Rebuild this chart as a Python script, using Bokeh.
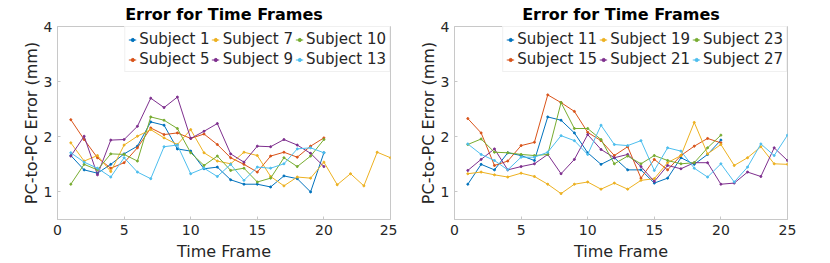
from bokeh.plotting import figure
from bokeh.layouts import row
from bokeh.models import Range1d, Legend, LegendItem, FixedTicker
from bokeh.embed import file_html
from bokeh.resources import INLINE

# ---------------- data ----------------
frames_20 = list(range(1, 21))
frames_25 = list(range(1, 26))

# left panel
subject_1 = [1.66, 1.40, 1.34, 1.50, 1.69, 1.83, 2.27, 2.21, 1.78, 1.74,
             1.42, 1.45, 1.22, 1.14, 1.14, 1.09, 1.29, 1.24, 1.00, 1.71]
subject_5 = [2.31, 1.95, 1.62, 1.43, 1.53, 1.80, 2.16, 2.04, 2.07, 1.97,
             2.05, 1.86, 1.62, 1.50, 1.36, 1.65, 1.72, 1.63, 1.83, 1.98]
subject_7 = [1.89, 1.56, 1.66, 1.37, 1.85, 2.01, 2.13, 1.98, 1.86, 2.13,
             1.71, 1.56, 1.51, 1.72, 1.66, 1.28, 1.11, 1.27, 1.25, 1.54,
             1.13, 1.33, 1.11, 1.72, 1.62]
subject_9 = [1.65, 2.01, 1.31, 1.94, 1.95, 2.19, 2.70, 2.53, 2.72, 1.97,
             2.10, 2.24, 1.69, 1.54, 1.83, 1.82, 1.95, 1.85, 1.70, 1.46]
subject_10 = [1.14, 1.50, 1.40, 1.69, 1.68, 1.56, 2.36, 2.30, 2.15, 1.71,
              1.48, 1.65, 1.39, 1.43, 1.18, 1.25, 1.62, 1.46, 1.65, 1.95]
subject_13 = [1.71, 1.54, 1.43, 1.27, 1.62, 1.36, 1.24, 1.82, 1.85, 1.33,
              1.43, 1.28, 1.50, 1.21, 1.45, 1.43, 1.51, 1.78, 1.80, 1.71]

# right panel
subject_11 = [1.14, 1.50, 1.40, 1.71, 1.66, 1.57, 2.36, 2.30, 2.07, 1.71,
              1.50, 1.62, 1.40, 1.40, 1.16, 1.25, 1.62, 1.50, 1.68, 1.94]
subject_15 = [2.33, 2.07, 1.48, 1.56, 1.84, 1.90, 2.76, 2.62, 2.46, 2.08,
              1.93, 1.66, 1.82, 1.25, 1.59, 1.40, 1.66, 1.83, 1.97, 1.89]
subject_19 = [1.33, 1.36, 1.31, 1.27, 1.34, 1.28, 1.14, 0.97, 1.14, 1.18,
              1.05, 1.16, 1.05, 1.21, 1.24, 1.53, 1.66, 2.26, 1.69, 1.86,
              1.48, 1.62, 1.82, 1.51, 1.50]
subject_21 = [1.39, 1.59, 1.78, 1.40, 1.46, 1.51, 1.68, 1.33, 1.59, 2.04,
              1.77, 1.62, 1.68, 1.46, 1.19, 1.48, 1.42, 1.53, 1.53, 1.14,
              1.16, 1.36, 1.28, 1.80, 1.57]
subject_23 = [1.86, 1.96, 1.72, 1.71, 1.68, 1.66, 1.68, 2.62, 2.15, 2.15,
              1.95, 1.51, 1.65, 1.51, 1.66, 1.57, 1.51, 1.53, 1.80, 2.03]
subject_27 = [1.87, 1.68, 1.57, 1.40, 1.63, 1.63, 1.72, 2.02, 1.93, 1.68,
              2.21, 1.86, 1.84, 1.93, 1.39, 1.80, 1.74, 1.43, 1.27, 1.51,
              1.18, 1.45, 1.87, 1.66, 2.03]

left_names = ["Subject 1", "Subject 5", "Subject 7", "Subject 9", "Subject 10", "Subject 13"]
left_series = [subject_1, subject_5, subject_7, subject_9, subject_10, subject_13]
right_names = ["Subject 11", "Subject 15", "Subject 19", "Subject 21", "Subject 23", "Subject 27"]
right_series = [subject_11, subject_15, subject_19, subject_21, subject_23, subject_27]

colors = ["#0072BD", "#D95319", "#EDB120", "#7E2F8E", "#77AC30", "#4DBEEE"]

title_text = "Error for Time Frames"
x_label = "Time Frame"
y_label = "PC-to-PC Error (mm)"
x_ticks = [0, 5, 10, 15, 20, 25]
y_ticks = [1, 2, 3, 4]

FONT = "DejaVu Sans"
TEXT_COL = "#262626"
AX_COL = "#c8c8c8"


def make_panel(names, series, border_right):
    p = figure(frame_width=333, frame_height=193,
               output_backend="svg", toolbar_location=None,
               x_range=Range1d(0, 25), y_range=Range1d(0.5, 4),
               min_border_left=57, min_border_right=border_right,
               min_border_top=25, min_border_bottom=44)
    p.title.text = title_text
    p.title.align = "center"
    p.title.text_font = FONT
    p.title.text_font_size = "16px"
    p.title.text_font_style = "bold"
    p.title.text_color = "#000000"
    p.title.standoff = 5
    p.title.offset = 0
    p.grid.visible = False
    p.outline_line_color = AX_COL
    p.outline_line_width = 1
    p.background_fill_color = "white"
    p.border_fill_color = "white"

    for ax in (p.xaxis[0], p.yaxis[0]):
        ax.axis_line_color = AX_COL
        ax.major_tick_line_color = AX_COL
        ax.minor_tick_line_color = None
        ax.major_tick_in = 3
        ax.major_tick_out = 0
        ax.major_label_text_font = FONT
        ax.major_label_text_font_size = "14px"
        ax.major_label_text_color = TEXT_COL
        ax.axis_label_text_font = FONT
        ax.axis_label_text_font_size = "16px"
        ax.axis_label_text_font_style = "normal"
        ax.axis_label_text_color = TEXT_COL
    p.xaxis[0].ticker = FixedTicker(ticks=x_ticks)
    p.yaxis[0].ticker = FixedTicker(ticks=y_ticks)
    p.xaxis[0].axis_label = x_label
    p.yaxis[0].axis_label = y_label
    p.xaxis[0].major_label_standoff = 5
    p.xaxis[0].axis_label_standoff = 4
    p.yaxis[0].major_label_standoff = 5
    p.yaxis[0].axis_label_standoff = 0

    items = []
    for name, ys, c in zip(names, series, colors):
        xs = frames_25 if len(ys) == 25 else frames_20
        r1 = p.line(xs, ys, line_color=c, line_width=1.0)
        r2 = p.scatter(xs, ys, size=2, fill_color=c, line_color=c)
        items.append(LegendItem(label=name, renderers=[r1, r2]))

    leg = Legend(items=items, location="top_right", nrows=2,
                 orientation="vertical",
                 label_text_font=FONT, label_text_font_size="15px",
                 label_text_color=TEXT_COL,
                 glyph_width=8, glyph_height=17, label_standoff=3,
                 label_height=17, spacing=2, padding=3, margin=0,
                 border_line_color="#e2e2e2", background_fill_color="white",
                 background_fill_alpha=1.0)
    p.add_layout(leg, "center")
    return p


left = make_panel(left_names, left_series, 7)
right = make_panel(right_names, right_series, 20)
layout = row(left, right)

open("out.html", "w").write(file_html(layout, INLINE))
